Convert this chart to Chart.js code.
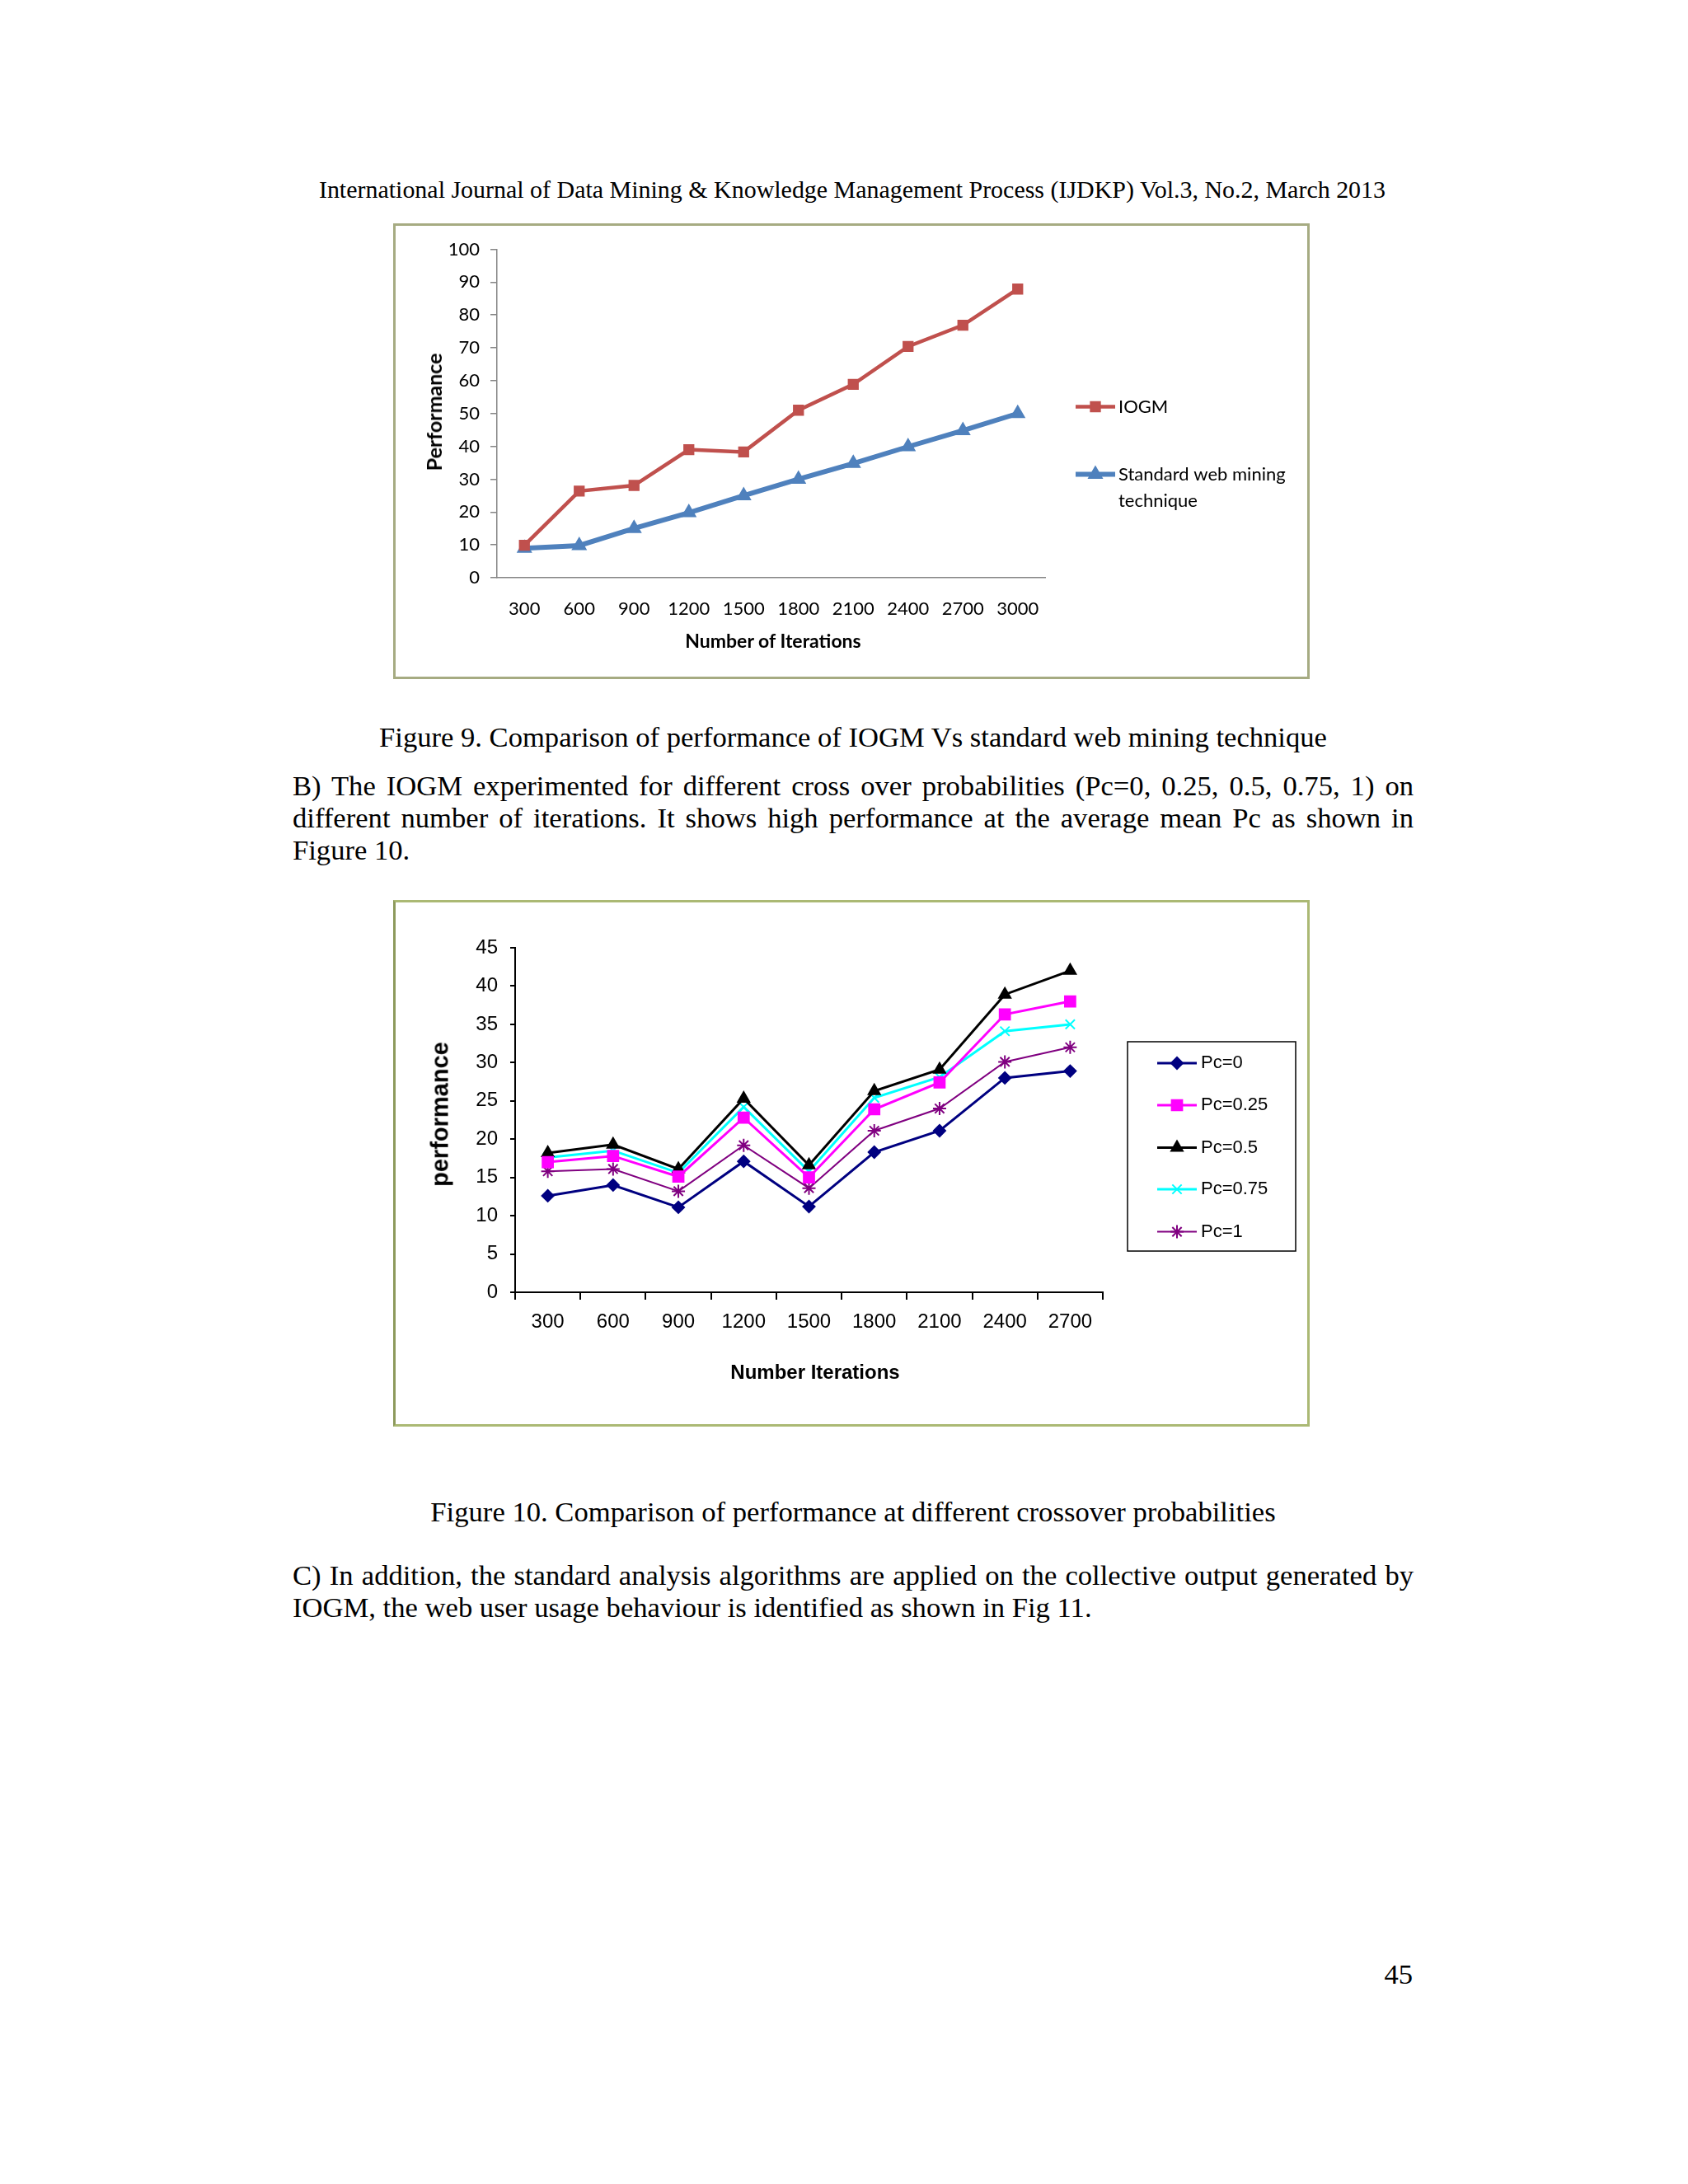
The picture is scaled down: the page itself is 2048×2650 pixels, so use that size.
<!DOCTYPE html>
<html>
<head>
<meta charset="utf-8">
<script src="https://cdn.jsdelivr.net/npm/chart.js@4.4.1/dist/chart.umd.min.js"></script>
<style>
  body { margin: 0; width: 2048px; height: 2650px; background: #fff; position: relative; overflow: hidden;
         font-family: "Liberation Serif", "Times New Roman", serif; color: #000; }
  .t { position: absolute; white-space: nowrap; height: 40px; line-height: 40px; }
  .j { text-align: justify; text-align-last: justify; white-space: normal; }
  .c { text-align: center; }
  .box { position: absolute; box-sizing: border-box; background: #fff; }
  .wrap { position: absolute; left: 0; top: 0; }
  .ttl { position: absolute; white-space: nowrap; font-weight: bold; }
</style>
</head>
<body>

<div class="t c" id="header" style="left:0;width:2068px;top:210px;">International Journal of Data Mining &amp; Knowledge Management Process (IJDKP) Vol.3, No.2, March 2013</div>

<div class="box" id="box1" style="left:477px;top:271px;width:1112px;height:553px;border:3px solid #a6ab82;">
  <div class="wrap" style="width:1106px;height:547px;"><canvas id="chart1"></canvas></div>
</div>
<div class="ttl" style="left:526px;top:500px;transform:translate(-50%,-50%) rotate(-90deg);font-family:Lato;font-size:25px;">Performance</div>
<div class="ttl" style="left:938px;top:777px;transform:translate(-50%,-50%);font-family:Lato;font-size:23px;">Number of Iterations</div>

<div class="t c" id="cap9" style="left:0;width:2070px;top:874px;">Figure 9. Comparison of performance of IOGM Vs standard web mining technique</div>

<div class="t j body" style="left:355px;width:1360px;top:933px;">B) The IOGM experimented for different cross over probabilities (Pc=0, 0.25, 0.5, 0.75, 1) on</div>
<div class="t j body" style="left:355px;width:1360px;top:972px;">different number of iterations. It shows high performance at the average mean Pc as shown in</div>
<div class="t body" style="left:355px;top:1011px;">Figure 10.</div>

<div class="box" id="box2" style="left:477px;top:1092px;width:1112px;height:639px;border:3px solid #abb974;border-left-color:#8d9a5c;">
  <div class="wrap" style="width:1106px;height:633px;"><canvas id="chart2"></canvas></div>
</div>
<div class="ttl" style="left:534px;top:1352px;transform:translate(-50%,-50%) rotate(-90deg);font-family:'Liberation Sans',Arial,sans-serif;font-size:29px;">performance</div>
<div class="ttl" style="left:989px;top:1665px;transform:translate(-50%,-50%);font-family:'Liberation Sans',Arial,sans-serif;font-size:24px;">Number Iterations</div>

<div class="t c" id="cap10" style="left:0;width:2070px;top:1814px;">Figure 10. Comparison of performance at different crossover probabilities</div>

<div class="t j body" style="left:355px;width:1360px;top:1891px;">C) In addition, the standard analysis algorithms are applied on the collective output generated by</div>
<div class="t body" style="left:355px;top:1930px;">IOGM, the web user usage behaviour is identified as shown in Fig 11.</div>

<div class="t body" style="right:334px;top:2375px;">45</div>

<script>
// Figure 9 data
const iterations9 = ['300', '600', '900', '1200', '1500', '1800', '2100', '2400', '2700', '3000'];
const iogmValues = [9.9, 26.4, 28.1, 39.0, 38.3, 51.0, 58.9, 70.4, 76.9, 87.9];
const standardValues = [9.0, 9.8, 15.0, 19.8, 25.0, 30.0, 34.8, 39.9, 44.8, 50.0];
const yTicks9 = { min: 0, max: 100, step: 10 };

// Figure 10 data
const iterations10 = ['300', '600', '900', '1200', '1500', '1800', '2100', '2400', '2700'];
const pc0Values = [12.6, 14.0, 11.1, 17.1, 11.2, 18.3, 21.1, 28.0, 28.9];
const pc025Values = [17.0, 17.8, 15.1, 22.8, 15.0, 23.9, 27.4, 36.3, 38.0];
const pc05Values = [18.2, 19.3, 16.1, 25.3, 16.6, 26.3, 29.1, 38.9, 42.0];
const pc075Values = [17.6, 18.5, 15.6, 24.2, 15.8, 25.4, 28.1, 34.1, 35.0];
const pc1Values = [15.8, 16.1, 13.2, 19.2, 13.6, 21.1, 24.0, 30.1, 32.0];
const yTicks10 = { min: 0, max: 45, step: 5 };

// fit page text to the widths measured on the page
const measure = document.createElement('canvas').getContext('2d');
function sizeFor(text, target) {
    measure.font = '100px "Liberation Serif"';
    return target / measure.measureText(text).width * 100;
}
const header = document.getElementById('header');
header.style.fontSize = sizeFor(header.textContent, 1295) + 'px';
const cap9 = document.getElementById('cap9');
const cap10 = document.getElementById('cap10');
const s9 = sizeFor(cap9.textContent, 1151);
const s10 = sizeFor(cap10.textContent, 1026);
cap9.style.fontSize = s9 + 'px';
cap10.style.fontSize = s10 + 'px';
document.querySelectorAll('.body').forEach(el => { el.style.fontSize = ((s9 + s10) / 2) + 'px'; });

// legend drawn beside the plot, from the datasets themselves
const sideLegend = {
    id: 'sideLegend',
    afterDraw(chart, args, opts) {
        const ctx = chart.ctx;
        ctx.save();
        if (opts.box) {
            ctx.strokeStyle = '#000';
            ctx.lineWidth = 1.5;
            ctx.strokeRect(opts.box[0], opts.box[1], opts.box[2], opts.box[3]);
        }
        ctx.font = opts.font;
        ctx.textBaseline = 'middle';
        chart.data.datasets.forEach((ds, i) => {
            const y = opts.rows[i];
            ctx.strokeStyle = ds.borderColor;
            ctx.lineWidth = ds.borderWidth;
            ctx.beginPath();
            ctx.moveTo(opts.x1, y);
            ctx.lineTo(opts.x2, y);
            ctx.stroke();
            ctx.fillStyle = ds.pointBackgroundColor;
            ctx.strokeStyle = ds.pointBorderColor;
            ctx.lineWidth = ds.pointBorderWidth;
            Chart.helpers.drawPoint(ctx, {
                pointStyle: ds.pointStyle, radius: ds.pointRadius,
                borderWidth: ds.pointBorderWidth, rotation: 0
            }, (opts.x1 + opts.x2) / 2, y);
            // simple word wrap
            const words = ds.label.split(' ');
            let line = '', lines = [];
            words.forEach(w => {
                const test = line ? line + ' ' + w : w;
                if (ctx.measureText(test).width > opts.maxWidth && line) { lines.push(line); line = w; }
                else line = test;
            });
            lines.push(line);
            ctx.fillStyle = '#000';
            lines.forEach((l, k) => ctx.fillText(l, opts.textX, y + k * opts.lineHeight));
        });
        ctx.restore();
    }
};

function series(label, data, color, style, radius, width, fill) {
    return {
        label: label, data: data,
        borderColor: color, borderWidth: width,
        pointStyle: style, pointRadius: radius,
        pointBackgroundColor: fill || color, pointBorderColor: color, pointBorderWidth: 2,
        tension: 0, fill: false
    };
}

Chart.defaults.animation = false;

// Figure 9
new Chart(document.getElementById('chart1'), {
    type: 'line',
    data: {
        labels: iterations9,
        datasets: [
            series('IOGM', iogmValues, '#C0504D', 'rect', 8, 4.5),
            series('Standard web mining technique', standardValues, '#4F81BD', 'triangle', 9, 6)
        ]
    },
    options: {
        responsive: true,
        maintainAspectRatio: false,
        layout: { padding: { left: 0, top: 28.5, right: 318, bottom: 0 } },
        scales: {
            x: {
                offset: true,
                grid: { display: false },
                border: { display: true, color: '#868686', width: 1.5 },
                ticks: { color: '#000', padding: 17, maxRotation: 0, font: { family: 'Lato', size: 22 } },
                afterFit(scale) { scale.height = 120; }
            },
            y: {
                min: yTicks9.min, max: yTicks9.max,
                grid: { drawOnChartArea: false, drawTicks: true, tickLength: 8, color: '#868686', lineWidth: 1.5 },
                border: { display: true, color: '#868686', width: 1.5 },
                ticks: { stepSize: yTicks9.step, color: '#000', padding: 13, font: { family: 'Lato', size: 22 } },
                afterFit(scale) { scale.width = 123; }
            }
        },
        plugins: {
            legend: { display: false },
            tooltip: { enabled: false },
            sideLegend: {
                x1: 825, x2: 873, textX: 877, rows: [219.5, 301.5], lineHeight: 32.5,
                maxWidth: 215, font: '22px Lato'
            }
        }
    },
    plugins: [sideLegend]
});

// Figure 10
new Chart(document.getElementById('chart2'), {
    type: 'line',
    data: {
        labels: iterations10,
        datasets: [
            series('Pc=0', pc0Values, '#000080', 'rectRot', 7, 3),
            series('Pc=0.25', pc025Values, '#FF00FF', 'rect', 9, 3),
            series('Pc=0.5', pc05Values, '#000000', 'triangle', 8, 3),
            series('Pc=0.75', pc075Values, '#00FFFF', 'crossRot', 8, 3),
            series('Pc=1', pc1Values, '#800080', 'star', 8, 2)
        ]
    },
    options: {
        responsive: true,
        maintainAspectRatio: false,
        layout: { padding: { left: 0, top: 55, right: 248, bottom: 0 } },
        scales: {
            x: {
                offset: true,
                grid: { offset: true, drawOnChartArea: false, drawTicks: true, tickLength: 9, color: '#000', lineWidth: 2 },
                border: { display: true, color: '#000', width: 2 },
                ticks: { color: '#000', padding: 13, maxRotation: 0,
                         font: { family: "'Liberation Sans', Arial, sans-serif", size: 24 } },
                afterFit(scale) { scale.height = 160; }
            },
            y: {
                min: yTicks10.min, max: yTicks10.max,
                grid: { drawOnChartArea: false, drawTicks: true, tickLength: 6, color: '#000', lineWidth: 2 },
                border: { display: true, color: '#000', width: 2 },
                ticks: { stepSize: yTicks10.step, color: '#000', padding: 15,
                         font: { family: "'Liberation Sans', Arial, sans-serif", size: 24 } },
                afterFit(scale) { scale.width = 145; }
            }
        },
        plugins: {
            legend: { display: false },
            tooltip: { enabled: false },
            sideLegend: {
                box: [888, 169, 204, 254],
                x1: 924, x2: 972, textX: 977, rows: [195, 246, 297.5, 348, 399.6], lineHeight: 26,
                maxWidth: 300, font: "22px 'Liberation Sans', Arial, sans-serif"
            }
        }
    },
    plugins: [sideLegend]
});
</script>
</body>
</html>
